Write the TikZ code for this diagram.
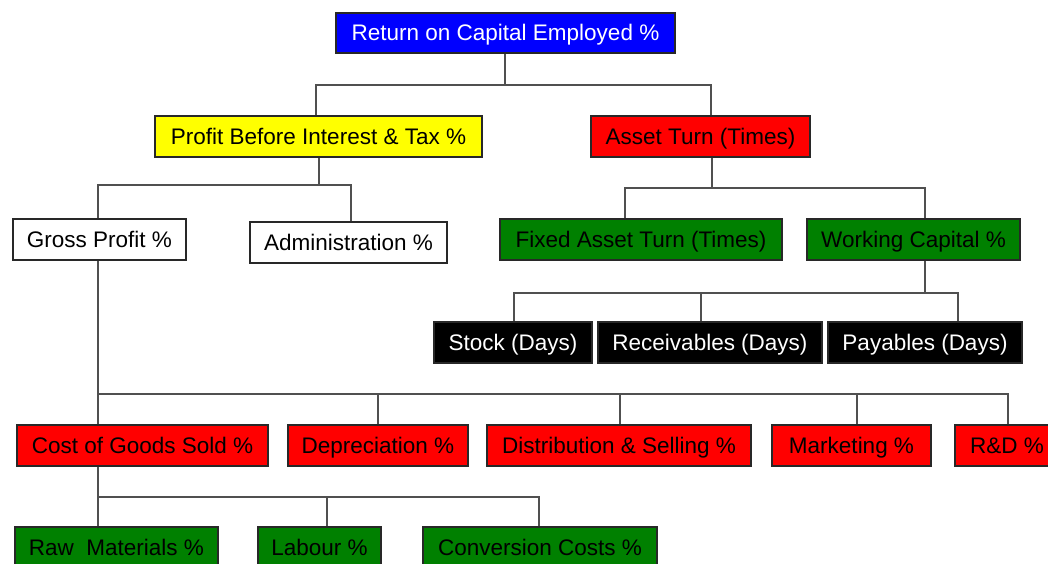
\documentclass[tikz,border=0pt]{standalone}
\usepackage{fontspec}
\setmainfont{Liberation Sans}
\definecolor{cblue}{RGB}{0,0,255}
\definecolor{cyellow}{RGB}{255,255,0}
\definecolor{cred}{RGB}{255,0,0}
\definecolor{cgreen}{RGB}{0,128,0}
\definecolor{cline}{RGB}{80,80,80}
\definecolor{cborder}{RGB}{40,40,40}
\begin{document}
\begin{tikzpicture}[x=1pt,y=-1pt,
  box/.style={draw=cborder, line width=1.2pt, inner sep=0pt, anchor=center,
    font=\fontsize{22.5}{27}\selectfont, text height=18pt, text depth=3pt,
    minimum height=41pt},
  conn/.style={draw=cline, line width=1.7pt}]
\useasboundingbox[fill=white] (0,0) rectangle (1048,563);
% nodes
\node[box, fill=cblue, text=white, minimum width=339pt, minimum height=40pt] (roce) at (505.5,33) {Return on Capital Employed \%};
\node[box, fill=cyellow, minimum width=327pt] (pbit) at (318.5,136.5) {Profit Before Interest \& Tax \%};
\node[box, fill=cred, minimum width=219pt] (at) at (700.5,136.5) {Asset Turn (Times)};
\node[box, fill=white, minimum width=173pt] (gp) at (99.5,239.5) {Gross Profit \%};
\node[box, fill=white, minimum width=197pt] (adm) at (348.5,242.5) {Administration \%};
\node[box, fill=cgreen, minimum width=282pt] (fat) at (641,239.5) {Fixed Asset Turn (Times)};
\node[box, fill=cgreen, minimum width=213pt] (wc) at (913.5,239.5) {Working Capital \%};
\node[box, fill=black, text=white, minimum width=158pt] (stock) at (513,342.5) {Stock (Days)};
\node[box, fill=black, text=white, minimum width=224pt] (rec) at (710,342.5) {Receivables (Days)};
\node[box, fill=black, text=white, minimum width=194pt] (pay) at (925,342.5) {Payables (Days)};
\node[box, fill=cred, minimum width=251pt] (cogs) at (142.5,445.5) {Cost of Goods Sold \%};
\node[box, fill=cred, minimum width=180pt] (dep) at (378,445.5) {Depreciation \%};
\node[box, fill=cred, minimum width=264pt] (dist) at (619,445.5) {Distribution \& Selling \%};
\node[box, fill=cred, minimum width=159pt] (mkt) at (851.5,445.5) {Marketing \%};
\node[box, fill=cred, minimum width=104pt] (rd) at (1007,445.5) {R\&D \%};
\node[box, fill=cgreen, minimum width=203pt] (raw) at (116.5,547.5) {Raw\ \ Materials \%};
\node[box, fill=cgreen, minimum width=123pt] (lab) at (319.5,547.5) {Labour \%};
\node[box, fill=cgreen, minimum width=234pt] (conv) at (540,547.5) {Conversion Costs \%};
% bus coordinates
\coordinate (a0) at (505,85);
\coordinate (a1) at (316,85);  \coordinate (a2) at (711,85);
\coordinate (b0) at (319,185);
\coordinate (b1) at (98,185);  \coordinate (b2) at (351,185);
\coordinate (c1) at (625,188); \coordinate (c2) at (712,188); \coordinate (c3) at (925,188);
\coordinate (d1) at (514,293); \coordinate (d2) at (701,293); \coordinate (d3) at (958,293);
\coordinate (e1) at (98,394);  \coordinate (e2) at (378,394); \coordinate (e3) at (620,394);
\coordinate (e4) at (857,394); \coordinate (e5) at (1008,394);
\coordinate (f1) at (98,497);  \coordinate (f2) at (327,497); \coordinate (f3) at (539,497);
% connectors
\draw[conn] (roce.south -| a0) -- (a0);
\draw[conn] (pbit.north -| a1) -- (a1) -- (a2) -- (at.north -| a2);
\draw[conn] (pbit.south -| b0) -- (b0);
\draw[conn] (gp.north -| b1) -- (b1) -- (b2) -- (adm.north -| b2);
\draw[conn] (at.south -| c2) -- (c2);
\draw[conn] (fat.north -| c1) -- (c1) -- (c3) -- (wc.north -| c3);
\draw[conn] (wc.south -| c3) -- (wc.south |- d1 -| c3);
\draw[conn] (stock.north -| d1) -- (d1) -- (d3) -- (pay.north -| d3);
\draw[conn] (rec.north -| d2) -- (d2);
\draw[conn] (gp.south -| e1) -- (cogs.north -| e1);
\draw[conn] (e1) -- (e5) -- (rd.north -| e5);
\draw[conn] (e2) -- (dep.north -| e2);
\draw[conn] (e3) -- (dist.north -| e3);
\draw[conn] (e4) -- (mkt.north -| e4);
\draw[conn] (cogs.south -| f1) -- (raw.north -| f1);
\draw[conn] (f1) -- (f3) -- (conv.north -| f3);
\draw[conn] (f2) -- (lab.north -| f2);
\end{tikzpicture}
\end{document}
